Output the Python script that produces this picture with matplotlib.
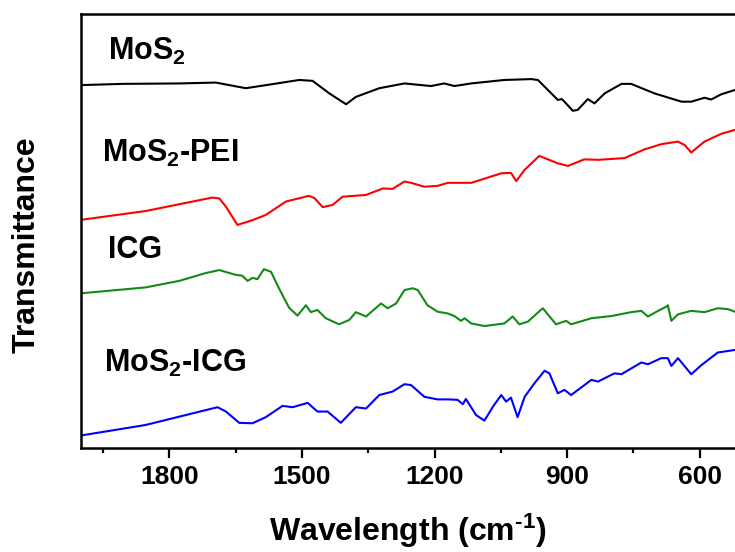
import matplotlib
matplotlib.use("Agg")
import matplotlib.pyplot as plt
from matplotlib.ticker import MultipleLocator

plt.rcParams['font.family'] = ['Liberation Sans', 'DejaVu Sans']
plt.rcParams['font.weight'] = 'bold'
plt.rcParams['mathtext.fontset'] = 'custom'
plt.rcParams['mathtext.rm'] = 'Liberation Sans:bold'
plt.rcParams['mathtext.bf'] = 'Liberation Sans:bold'
plt.rcParams['mathtext.it'] = 'Liberation Sans:bold'

# FTIR spectra (wavenumber in cm^-1, transmittance in arbitrary offset units)
mos2_wn = [2005, 1906, 1778, 1695, 1627, 1582, 1506, 1476, 1438, 1400, 1378, 1325,
           1268, 1208, 1178, 1155, 1117, 1042, 981, 966, 921, 912, 906, 887, 876,
           853, 838, 815, 777, 755, 702, 641, 619, 589, 574, 551, 520]
mos2_t = [83.6, 83.9, 84.0, 84.2, 82.9, 83.6, 84.8, 84.6, 81.7, 79.2, 80.9, 82.9,
          84.0, 83.4, 84.0, 83.4, 84.0, 84.8, 85.0, 84.8, 80.2, 80.4, 79.8, 77.7, 77.9,
          80.4, 79.4, 81.7, 83.9, 83.9, 81.7, 79.8, 79.8, 80.7, 80.3, 81.5, 82.5]

pei_wn = [2005, 1854, 1703, 1687, 1672, 1646, 1612, 1582, 1536, 1484, 1472, 1453,
          1431, 1408, 1355, 1317, 1295, 1268, 1253, 1223, 1193, 1170, 1117, 1095,
          1049, 1027, 1015, 996, 963, 921, 898, 861, 830, 770, 725, 687, 649, 634,
          619, 589, 551, 520]
pei_t = [52.5, 54.6, 57.7, 57.5, 55.6, 51.4, 52.5, 53.7, 56.8, 58.1, 57.6, 55.5,
         56.0, 57.9, 58.3, 59.8, 59.7, 61.4, 61.1, 60.2, 60.4, 61.1, 61.1, 61.8,
         63.3, 63.4, 61.5, 64.1, 67.3, 65.6, 65.0, 66.5, 66.4, 66.8, 68.8, 70.0,
         70.6, 69.8, 68.1, 70.6, 72.4, 73.3]

icg_wn = [2005, 1854, 1778, 1718, 1687, 1650, 1635, 1623, 1612, 1601, 1586, 1570,
          1552, 1529, 1510, 1491, 1480, 1465, 1446, 1416, 1393, 1378, 1355, 1321,
          1306, 1287, 1268, 1249, 1238, 1216, 1193, 1170, 1155, 1140, 1132, 1117,
          1087, 1042, 1023, 1008, 989, 955, 925, 902, 891, 845, 800, 755, 732, 717,
          694, 675, 672, 664, 649, 619, 589, 559, 536, 520]
icg_t = [35.6, 37.0, 38.5, 40.3, 41.0, 39.9, 39.7, 38.5, 39.2, 38.9, 41.2, 40.6,
         36.8, 32.3, 30.5, 32.9, 31.3, 31.8, 29.9, 28.5, 29.5, 31.3, 30.3, 33.3,
         32.2, 33.3, 36.4, 36.8, 36.4, 32.9, 31.4, 31.0, 30.4, 29.3, 29.9, 28.7,
         28.1, 28.7, 30.3, 28.5, 29.1, 32.2, 28.5, 29.3, 28.5, 29.9, 30.4, 31.3, 31.6, 30.3,
         31.6, 32.6, 32.9, 29.3, 30.8, 31.6, 31.3, 32.2, 32.0, 31.4]

micg_wn = [2005, 1854, 1691, 1672, 1642, 1612, 1582, 1544, 1521, 1487, 1465, 1442,
           1412, 1378, 1355, 1325, 1295, 1268, 1253, 1223, 1193, 1170, 1148, 1136,
           1129, 1106, 1087, 1068, 1049, 1038, 1027, 1012, 996, 974, 951, 940, 921,
           906, 891, 845, 830, 793, 777, 732, 717, 687, 672, 664, 649, 619, 596,
           559, 520]
micg_t = [2.8, 5.3, 9.4, 8.4, 5.8, 5.7, 7.1, 9.7, 9.4, 10.4, 8.4, 8.4,
          5.8, 9.4, 9.1, 12.2, 13.0, 14.7, 14.5, 11.8, 11.2, 11.2, 11.1, 10.1,
          11.3, 7.6, 6.3, 9.5, 12.2, 10.7, 11.6, 7.1, 11.8, 14.9, 17.8, 17.2, 12.6,
          13.4, 12.2, 15.7, 15.3, 17.2, 17.0, 19.7, 19.3, 20.7, 20.7, 18.9, 20.7, 17.0, 19.1,
          22.0, 22.6]

series = [
    (mos2_wn, mos2_t, 'black', r'MoS$_{2}$', 1939, 89.4),
    (pei_wn, pei_t, '#ff0000', r'MoS$_{2}$-PEI', 1952, 65.9),
    (icg_wn, icg_t, '#138a13', 'ICG', 1939, 43.8),
    (micg_wn, micg_t, '#0000ff', r'MoS$_{2}$-ICG', 1948, 17.6),
]

fig = plt.figure(figsize=(7.35, 5.52), dpi=100)
ax = fig.add_axes([81 / 735, 104 / 552, 1 - 81 / 735, 434 / 552])

for wn, t, color, label, lx, ly in series:
    ax.plot(wn, t, color=color, lw=1.5)
    ax.text(lx, ly, label, fontsize=22, fontweight='bold', ha='left', va='baseline')

ax.set_xlim(2000, 520)
ax.set_ylim(0, 100)
ax.xaxis.set_major_locator(MultipleLocator(300))
ax.xaxis.set_minor_locator(MultipleLocator(150))
ax.set_yticks([])
ax.tick_params(axis='x', which='major', direction='out', length=7, width=1.6,
               labelsize=19, pad=5)
ax.tick_params(axis='x', which='minor', direction='out', length=3.5, width=1.6)
for lbl in ax.get_xticklabels():
    lbl.set_fontweight('bold')
for side in ('left', 'top', 'bottom'):
    ax.spines[side].set_linewidth(1.8)
ax.spines['right'].set_visible(False)

fig.text(408 / 735, 11 / 552, r'Wavelength (cm$^{\text{-1}}$)', fontsize=23,
         fontweight='bold', ha='center', va='baseline')
fig.text(27 / 735, 1 - 245 / 552, 'Transmittance', fontsize=23, fontweight='bold',
         rotation=90, ha='center', va='center')

fig.savefig('out.png', dpi=100)
